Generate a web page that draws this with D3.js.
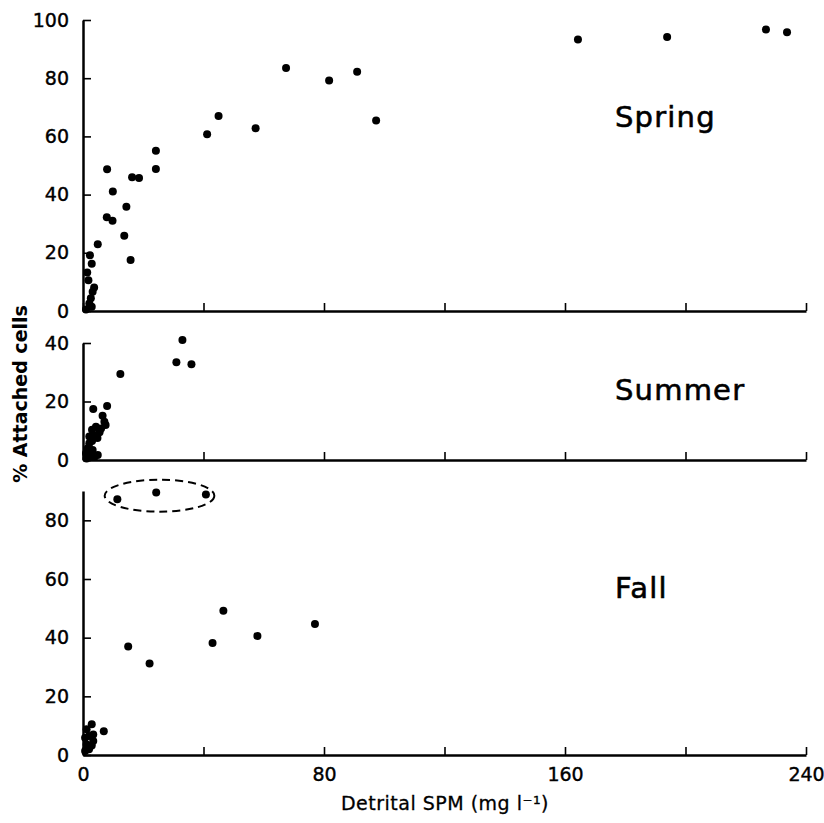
<!DOCTYPE html>
<html><head><meta charset="utf-8">
<script src="https://cdn.jsdelivr.net/npm/d3@7"></script>
<style>body{margin:0;background:#fff}svg{display:block}</style>
</head><body>
<svg id="c" width="824" height="823"></svg>
<script>
// ---- data ----
const xTicks = [0, 40, 80, 120, 160, 200, 240];
const xLabels = [0, 80, 160, 240];
const springTicks = [0, 20, 40, 60, 80, 100];
const summerTicks = [0, 20, 40];
const fallTicks = [0, 20, 40, 60, 80];
const panelNames = ["Spring", "Summer", "Fall"];

const spring = [[1.0,0.5],[2.1,2.6],[2.9,1.5],[2.6,4.4],[3.2,6.6],[3.7,8.1],[1.8,10.6],[1.4,13.2],[2.9,16.2],[2.3,19.2],[4.9,22.9],[8.0,48.7],[7.9,32.2],[9.8,31.0],[9.9,41.1],[14.4,35.8],[13.7,25.9],[15.8,17.5],[16.3,46.0],[18.6,45.7],[24.2,55.1],[24.2,48.8],[41.2,60.7],[45.0,67.0],[57.3,62.8],[67.4,83.5],[81.7,79.2],[91.0,82.2],[97.3,65.5],[164.3,93.3],[193.9,94.2],[226.7,96.7],[233.7,95.8]];
const summer = [[33.0,41.0],[31.0,33.4],[36.0,32.7],[12.4,29.4],[8.0,18.5],[3.4,17.4],[6.5,15.1],[7.1,13.1],[7.5,12.0],[4.3,11.4],[6.0,10.8],[3.0,10.3],[5.5,9.5],[3.8,8.5],[2.1,8.0],[4.8,7.5],[2.1,5.7],[3.0,6.5],[1.6,4.0],[3.2,3.4],[1.0,2.3],[4.9,1.7],[2.1,1.1],[3.8,1.0],[1.2,0.5],[2.5,2.8]];
const fall = [[11.4,87.2],[24.3,89.5],[40.8,88.8],[15.0,37.0],[22.1,31.2],[43.0,38.2],[46.6,49.2],[57.9,40.6],[77.0,44.7],[6.9,8.1],[2.9,10.5],[1.2,8.8],[3.4,7.0],[2.0,6.5],[0.7,5.9],[3.4,4.8],[1.2,3.6],[2.9,3.2],[0.7,1.4],[2.0,2.0]];
// circled group annotation (data units): centre x, centre y, half-width in x
const fallGroup = [25.4, 88.4, 18.2];

// ---- drawing ----
const svg = d3.select("#c");
const x = d3.scaleLinear().domain([0, 240]).range([83, 806]);
const font = "DejaVu Sans, Liberation Sans, sans-serif";

const panels = [
  {name: panelNames[0], data: spring, ticks: springTicks, y: d3.scaleLinear().domain([0,100]).range([311,20]), labelY: 127, showX: false},
  {name: panelNames[1], data: summer, ticks: summerTicks, y: d3.scaleLinear().domain([0,40]).range([460,343]), labelY: 400, showX: false},
  {name: panelNames[2], data: fall, ticks: fallTicks, y: d3.scaleLinear().domain([0,90]).range([755,491]), labelY: 598, showX: true}
];

panels.forEach(p => {
  const g = svg.append("g");
  const ya = d3.axisLeft(p.y).tickValues(p.ticks).tickSizeInner(-8).tickSizeOuter(0).tickPadding(14);
  const gy = g.append("g").attr("transform", `translate(${x(0)},0)`).call(ya);
  const xa = d3.axisBottom(x).tickValues(xTicks).tickSizeInner(-8).tickSizeOuter(0).tickPadding(13)
    .tickFormat(d => p.showX && xLabels.includes(d) ? d : "");
  const gx = g.append("g").attr("transform", `translate(0,${p.y(0)})`).call(xa);
  [gx, gy].forEach(a => {
    a.select(".domain").attr("stroke", "#000").attr("stroke-width", 2.5);
    a.selectAll(".tick line").attr("stroke", "#000").attr("stroke-width", 1.6);
    a.selectAll("text").attr("font-family", font).attr("font-size", 19).attr("fill", "#000")
      .attr("stroke", "#000").attr("stroke-width", 0.4);
  });
  g.selectAll("circle.pt").data(p.data).join("circle")
    .attr("class", "pt")
    .attr("cx", d => x(d[0])).attr("cy", d => p.y(d[1])).attr("r", 4).attr("fill", "#000");
  g.append("text").attr("x", 615).attr("y", p.labelY).text(p.name)
    .attr("font-family", font).attr("font-size", 29).attr("letter-spacing", 1.2).attr("fill", "#000")
    .attr("stroke", "#000").attr("stroke-width", 0.6);
  if (p.name === "Fall") {
    g.append("ellipse")
      .attr("cx", x(fallGroup[0])).attr("cy", p.y(fallGroup[1]))
      .attr("rx", x(fallGroup[2]) - x(0)).attr("ry", 16)
      .attr("fill", "none").attr("stroke", "#000").attr("stroke-width", 2)
      .attr("stroke-dasharray", "8,5");
  }
});

svg.append("text").attr("transform", "translate(27,394) rotate(-90)").attr("text-anchor", "middle")
  .attr("font-family", font).attr("font-weight", "bold").attr("font-size", 19).text("% Attached cells");
svg.append("text").attr("x", 445).attr("y", 810).attr("text-anchor", "middle")
  .attr("font-family", font).attr("font-size", 19).attr("letter-spacing", 0.5)
  .attr("stroke", "#000").attr("stroke-width", 0.3).text("Detrital SPM (mg l\u207B\u00B9)");
</script>
</body></html>
